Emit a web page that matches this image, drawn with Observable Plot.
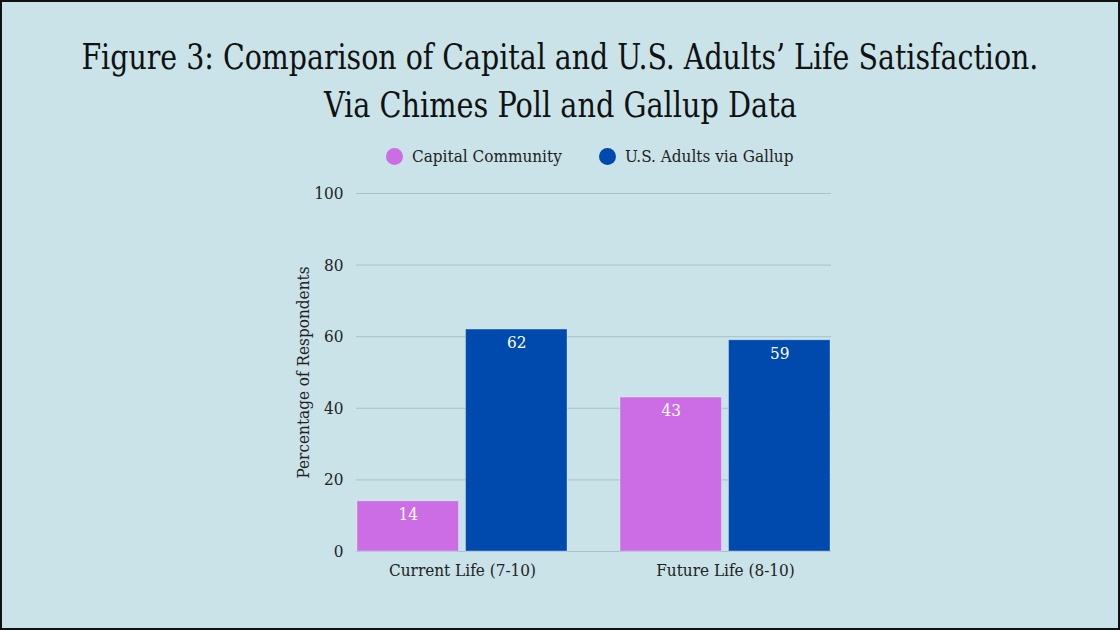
<!DOCTYPE html>
<html>
<head>
<meta charset="utf-8">
<script src="https://cdn.jsdelivr.net/npm/d3@7"></script>
<script src="https://cdn.jsdelivr.net/npm/@observablehq/plot@0.6"></script>
<style>
  html, body { margin: 0; padding: 0; }
  body {
    width: 1120px; height: 630px; overflow: hidden;
    background: #c9e3e8;
    font-family: "DejaVu Serif Condensed", "DejaVu Serif", serif;
    font-stretch: condensed;
    position: relative;
  }
  #frame { position: absolute; left: 0; top: 0; width: 1120px; height: 630px; box-sizing: border-box; border: 2px solid #111; pointer-events: none; }
  .tline { position: absolute; left: 0; width: 1120px; text-align: center; font-size: 36px; color: #111; white-space: nowrap; }
  .tline span { display: inline-block; transform-origin: center; }
  #legend { position: absolute; top: 146px; left: 0; width: 1120px; font-size: 17px; color: #222; }
  .li { position: absolute; display: flex; align-items: center; white-space: nowrap; }
  .dot { width: 17px; height: 17px; border-radius: 50%; margin-right: 9px; }
  #chart { position: absolute; left: 0; top: 180px; }
</style>
</head>
<body>
<div class="tline" id="t1" style="top:36px"><span>Figure 3: Comparison of Capital and U.S. Adults’ Life Satisfaction.</span></div>
<div class="tline" id="t2" style="top:84px"><span>Via Chimes Poll and Gallup Data</span></div>
<div id="legend"></div>
<div id="chart"></div>
<div id="frame"></div>
<script>
const categories = ["Current Life (7-10)", "Future Life (8-10)"];
const seriesNames = ["Capital Community", "U.S. Adults via Gallup"];
const capitalValues = [14, 43];
const gallupValues = [62, 59];
const yTicks = [0, 20, 40, 60, 80, 100];
const colors = ["#cc6de6", "#004aad"];

const capitalData = categories.map((c, i) => ({category: c, series: seriesNames[0], value: capitalValues[i]}));
const gallupData = categories.map((c, i) => ({category: c, series: seriesNames[1], value: gallupValues[i]}));

// fit title lines to reference widths
function fit(id, w) {
  const s = document.querySelector("#" + id + " span");
  const cw = s.getBoundingClientRect().width;
  s.style.transform = `scaleX(${w / cw})`;
}
fit("t1", 957);
fit("t2", 473);

// legend
const legend = document.getElementById("legend");
const legendX = [386, 599];
seriesNames.forEach((n, i) => {
  const d = document.createElement("div");
  d.className = "li";
  d.style.left = legendX[i] + "px";
  d.innerHTML = `<div class="dot" style="background:${colors[i]}"></div><span>${n}</span>`;
  legend.appendChild(d);
});

const W = 1120, ML = 356, MR = 289, PAD = 0.2, GAP = 6;
const bw = (W - ML - MR) / (categories.length - PAD) * (1 - PAD);
const half = bw / 2 + GAP / 2;
const off = bw / 4 + GAP / 4;

const chart = Plot.plot({
  width: W,
  height: 420,
  marginTop: 13,
  marginBottom: 49,
  marginLeft: ML,
  marginRight: MR,
  style: {background: "transparent", fontFamily: '"DejaVu Serif Condensed", "DejaVu Serif", serif', fontSize: "17px", color: "#222"},
  x: {domain: categories, paddingInner: PAD, paddingOuter: 0},
  y: {domain: [0, 100], ticks: yTicks},
  color: {domain: seriesNames, range: colors},
  marks: [
    Plot.gridY(yTicks, {stroke: "#a7c3c8", strokeOpacity: 1, strokeWidth: 1}),
    Plot.axisY({ticks: yTicks, tickSize: 0, tickPadding: 13, label: "Percentage of Respondents", labelAnchor: "center", labelArrow: "none", labelOffset: 60, fontSize: 17}),
    Plot.axisX({tickSize: 0, tickPadding: 12, fontSize: 17, label: null}),
    Plot.barY(capitalData, {x: "category", y: "value", fill: "series", insetRight: half, stroke: "#ffffff", strokeOpacity: 0.3, strokeWidth: 1}),
    Plot.barY(gallupData, {x: "category", y: "value", fill: "series", insetLeft: half, stroke: "#ffffff", strokeOpacity: 0.3, strokeWidth: 1}),
    Plot.text(capitalData, {x: "category", y: "value", text: d => String(d.value), dx: -off, dy: 13, fill: "white", fontSize: 17}),
    Plot.text(gallupData, {x: "category", y: "value", text: d => String(d.value), dx: off, dy: 13, fill: "white", fontSize: 17})
  ]
});
document.getElementById("chart").appendChild(chart);
</script>
</body>
</html>
